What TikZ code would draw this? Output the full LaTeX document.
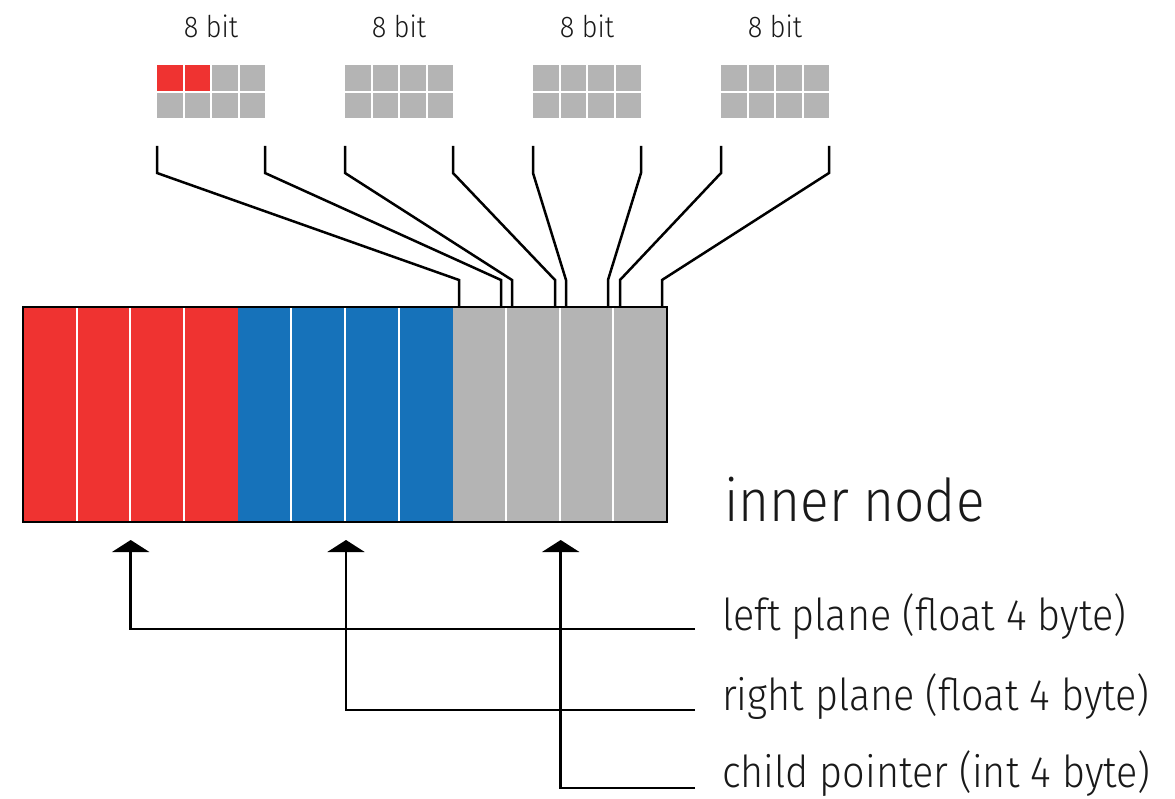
\documentclass[tikz,border=0pt]{standalone}
\usepackage{fontspec}
\setmainfont{Fira Sans}[UprightFont={* Light}, FakeStretch=0.9]
\usetikzlibrary{arrows.meta}
\definecolor{cred}{RGB}{239,51,49}
\definecolor{cblue}{RGB}{22,114,186}
\definecolor{cgray}{RGB}{180,180,180}
\definecolor{ctext}{RGB}{25,25,25}
\tikzset{
  wire/.style={line width=2.5pt, black, line join=miter},
  ptr/.style={line width=2.5pt, black, -{Triangle[length=12pt,width=37pt]}},
  bitlabel/.style={font=\fontsize{30}{33}\selectfont, text=ctext, inner sep=0pt, anchor=base},
  fieldlabel/.style={font=\fontsize{44}{48}\selectfont, text=ctext, inner sep=0pt, anchor=base west},
  titlelabel/.style={font=\fontsize{59}{62}\selectfont, text=ctext, inner sep=0pt, anchor=base west},
  bitcell/.style={fill=cgray, draw=none, minimum width=25.5pt, minimum height=25.5pt, inner sep=0pt, anchor=north west},
  divider/.style={white, line width=2pt}
}
\begin{document}
\begin{tikzpicture}[x=1pt,y=-1pt]
\useasboundingbox (0,0) rectangle (1175,799);
% main record
\fill[cred]  (23,307) rectangle (238,522);
\fill[cblue] (238,307) rectangle (453,522);
\fill[cgray] (453,307) rectangle (667,522);
\foreach \k in {1,2,3,5,6,7,9,10,11}{
  \draw[divider] ({23+\k*53.667},307) -- ({23+\k*53.667},522);
}
\node[draw=black, line width=2.5pt, minimum width=644pt, minimum height=215pt, inner sep=0pt] (box) at (345,414.5) {};
\node[titlelabel] (title) at (724,521) {inner node};
% byte grids
\foreach \g in {0,1,2,3}{
  \node[bitlabel] (lab\g) at ({211+188*\g},38) {8 bit};
  \foreach \c in {0,1,2,3}{
    \foreach \r in {0,1}{
      \node[bitcell] (c\g\c\r) at ({157+188*\g+27.5*\c},{65+27.5*\r}) {};
    }
  }
}
\node[bitcell, fill=cred] at (157,65) {};
\node[bitcell, fill=cred] at (184.5,65) {};
% connectors from byte grids into record
\foreach \s/\e [count=\n] in {157/459, 265/501, 345/512, 453/555, 533/566, 641/608, 721/620, 829/662}{
  \coordinate (t\n) at (\s,146);
  \coordinate (b\n) at (\e,307);
  \draw[wire] (t\n) -- ++(0,27) -- (\e,280) -- (b\n);
}
% field labels
\node[fieldlabel] (lp) at (722,630) {left plane (float 4 byte)};
\node[fieldlabel] (rp) at (722,710) {right plane (float 4 byte)};
\node[fieldlabel] (cp) at (722,787) {child pointer (int 4 byte)};
\coordinate (lpe) at (695,629);
\coordinate (rpe) at (695,710);
\coordinate (cpe) at (695,788);
\coordinate (lpt) at (130.7,540);
\coordinate (rpt) at (346,540);
\coordinate (cpt) at (560.7,540);
\draw[ptr] (lpe) -- (lpt |- lpe) -- (lpt);
\draw[ptr] (rpe) -- (rpt |- rpe) -- (rpt);
\draw[ptr] (cpe) -- (cpt |- cpe) -- (cpt);
\end{tikzpicture}
\end{document}
